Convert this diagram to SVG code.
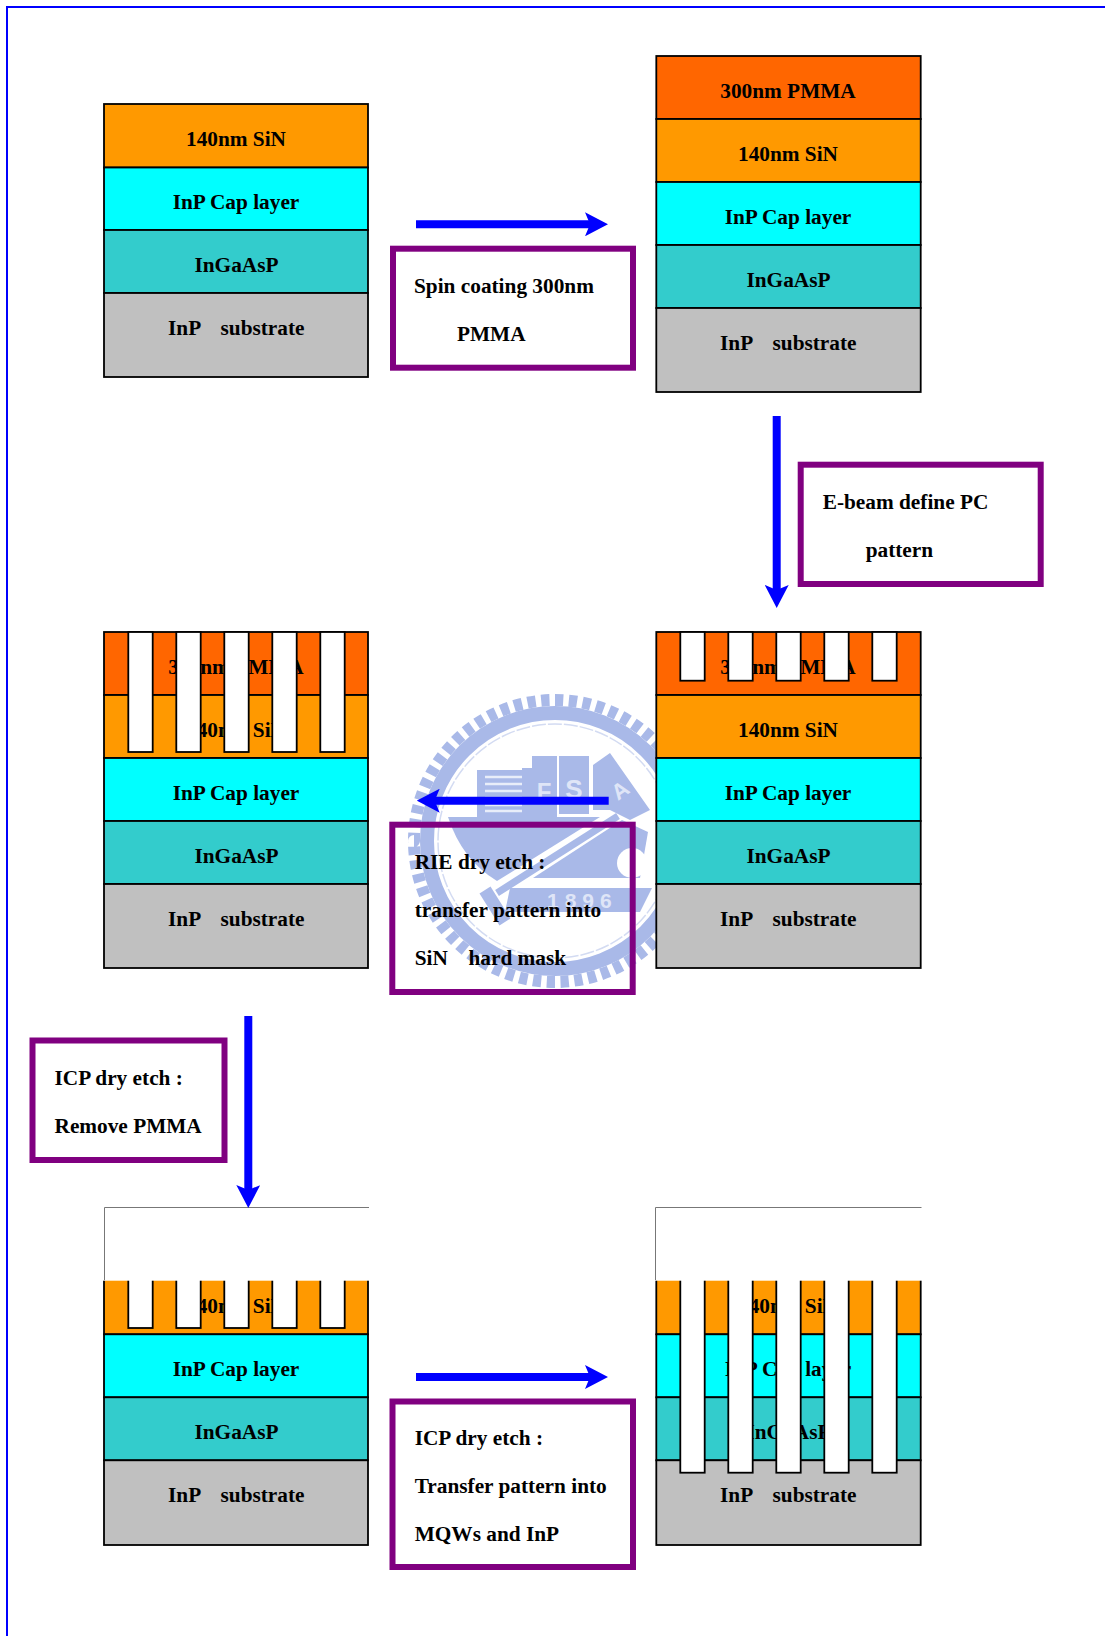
<svg xmlns="http://www.w3.org/2000/svg" width="1105" height="1636" viewBox="0 0 1105 1636">
<style>
text{font-family:"Liberation Serif","Times New Roman",serif;font-weight:bold;font-size:21.3px;fill:#000}
.c{text-anchor:middle}
.l{stroke:#000;stroke-width:1.800}
.pm{fill:#f60}.si{fill:#f90}.ca{fill:#0ff}.qw{fill:#3cc}.su{fill:#c0c0c0}
.tr{fill:#fff;stroke:#000;stroke-width:1.800}
.box{fill:none;stroke:#800080;stroke-width:6}
.ar{fill:none;stroke:#00f;stroke-width:8;marker-end:url(#head)}
.wm{fill:#a9b9e8}
.wt{fill:#dfe5f7;font-family:"Liberation Sans",Arial,sans-serif}
.cover{fill:#fff}
.edge{stroke:#777;stroke-width:1;fill:none}
</style>
<defs>
<marker id="head" markerUnits="userSpaceOnUse" viewBox="0 0 24 24" markerWidth="24" markerHeight="24" refX="10" refY="12" orient="auto"><path d="M1,0L24,12L1,24L6,12Z" fill="#00f"/></marker>
</defs>
<path id="frame" d="M1105,7H7V1636" fill="none" stroke="#00f" stroke-width="2"/>
<g id="watermark">
<circle cx="555" cy="841" r="141" fill="none" stroke="#a9b9e8" stroke-width="12" pathLength="64" stroke-dasharray=".6 .4"/>
<circle cx="555" cy="841" r="128" fill="none" stroke="#a9b9e8" stroke-width="14"/>
<circle cx="555" cy="841" r="117" fill="none" stroke="#d3dbf2" stroke-width="1.500" stroke-dasharray="14 2"/>
<rect class="wm" x="477" y="770" width="45" height="47"/>
<path d="M485,777H522M485,784H522M485,791H522M485,798H522M485,805H522M485,811H522" stroke="#e8edf9" stroke-width="2.500"/>
<rect class="wm" x="522" y="768" width="10" height="49"/>
<rect class="wm" x="532" y="756" width="25" height="61"/>
<rect class="wm" x="559" y="756" width="30" height="58"/>
<path class="wm" d="M593,765L610,753L650,810L630,820L610,810L593,810Z"/>
<text class="wt c" x="544" y="800" style="font-size:24px">F</text>
<text class="wt c" x="574" y="798" style="font-size:26px">S</text>
<text class="wt c" x="620" y="798" style="font-size:22px" transform="rotate(-35 620 790)">A</text>
<path class="wm" d="M448,817H600L497,881Q462,860 448,817Z"/>
<path d="M618,816L497,893" stroke="#a9b9e8" stroke-width="7" fill="none"/>
<path class="wm" d="M533,878L622,820L648,832L640,878Z"/>
<circle cx="632" cy="863" r="15" fill="#fff"/>
<path d="M485,890L505,922" stroke="#a9b9e8" stroke-width="13" fill="none"/>
<path class="wm" d="M510,888H652L640,912H505Z"/>
<text class="wt" x="547" y="908" style="font-size:21px;letter-spacing:6px">1896</text>
</g>
<g id="stack-1">
<rect class="si l" x="104" y="104" width="264" height="63.500"/><rect class="ca l" x="104" y="167.500" width="264" height="62.500"/><rect class="qw l" x="104" y="230" width="264" height="63"/><rect class="su l" x="104" y="293" width="264" height="84"/>
<text class="c" x="236" y="146">140nm SiN</text><text class="c" x="236" y="209">InP Cap layer</text><text class="c" x="236.500" y="272">InGaAsP</text>
<text y="335"><tspan x="168">InP</tspan> <tspan x="220.500">substrate</tspan></text>
</g>
<g id="stack-2">
<rect class="pm l" x="656.300" y="56" width="264.400" height="63"/><rect class="si l" x="656.300" y="119" width="264.400" height="63"/><rect class="ca l" x="656.300" y="182" width="264.400" height="63"/><rect class="qw l" x="656.300" y="245" width="264.400" height="63"/><rect class="su l" x="656.300" y="308" width="264.400" height="84"/>
<text class="c" x="788" y="98">300nm PMMA</text><text class="c" x="788" y="161">140nm SiN</text><text class="c" x="788" y="224">InP Cap layer</text><text class="c" x="788.500" y="287">InGaAsP</text>
<text y="350"><tspan x="720">InP</tspan> <tspan x="772.500">substrate</tspan></text>
</g>
<g id="stack-3">
<rect class="pm l" x="656.300" y="632" width="264.400" height="63"/><rect class="si l" x="656.300" y="695" width="264.400" height="63"/><rect class="ca l" x="656.300" y="758" width="264.400" height="63"/><rect class="qw l" x="656.300" y="821" width="264.400" height="63"/><rect class="su l" x="656.300" y="884" width="264.400" height="84"/>
<text class="c" x="788" y="674">300nm PMMA</text><text class="c" x="788" y="737">140nm SiN</text><text class="c" x="788" y="800">InP Cap layer</text><text class="c" x="788.500" y="863">InGaAsP</text>
<text y="926"><tspan x="720">InP</tspan> <tspan x="772.500">substrate</tspan></text>
<rect class="tr" x="680.300" y="632" width="24.400" height="48.700"/><rect class="tr" x="728.300" y="632" width="24.400" height="48.700"/><rect class="tr" x="776.300" y="632" width="24.400" height="48.700"/><rect class="tr" x="824.300" y="632" width="24.400" height="48.700"/><rect class="tr" x="872.300" y="632" width="24.400" height="48.700"/>
</g>
<g id="stack-4">
<rect class="pm l" x="104" y="632" width="264" height="63"/><rect class="si l" x="104" y="695" width="264" height="63"/><rect class="ca l" x="104" y="758" width="264" height="63"/><rect class="qw l" x="104" y="821" width="264" height="63"/><rect class="su l" x="104" y="884" width="264" height="84"/>
<text class="c" x="236" y="674">300nm PMMA</text><text class="c" x="236" y="737">140nm SiN</text><text class="c" x="236" y="800">InP Cap layer</text><text class="c" x="236.500" y="863">InGaAsP</text>
<text y="926"><tspan x="168">InP</tspan> <tspan x="220.500">substrate</tspan></text>
<rect class="tr" x="128.300" y="632" width="24.400" height="120"/><rect class="tr" x="176.300" y="632" width="24.400" height="120"/><rect class="tr" x="224.300" y="632" width="24.400" height="120"/><rect class="tr" x="272.300" y="632" width="24.400" height="120"/><rect class="tr" x="320.300" y="632" width="24.400" height="120"/>
</g>
<g id="stack-5">
<rect class="si l" x="104" y="1271" width="264" height="63.300"/><rect class="ca l" x="104" y="1334.300" width="264" height="63"/><rect class="qw l" x="104" y="1397.300" width="264" height="63"/><rect class="su l" x="104" y="1460.300" width="264" height="84.700"/>
<text class="c" x="236" y="1313">140nm SiN</text><text class="c" x="236" y="1376">InP Cap layer</text><text class="c" x="236.500" y="1439">InGaAsP</text>
<text y="1502"><tspan x="168">InP</tspan> <tspan x="220.500">substrate</tspan></text>
<rect class="tr" x="128.300" y="1270" width="24.400" height="58"/><rect class="tr" x="176.300" y="1270" width="24.400" height="58"/><rect class="tr" x="224.300" y="1270" width="24.400" height="58"/><rect class="tr" x="272.300" y="1270" width="24.400" height="58"/><rect class="tr" x="320.300" y="1270" width="24.400" height="58"/>
<rect class="cover" x="103" y="1207" width="267" height="73.700"/>
<path class="edge" d="M369,1207.500H104.500V1280"/>
</g>
<g id="stack-6">
<rect class="si l" x="656.300" y="1271" width="264.400" height="63.300"/><rect class="ca l" x="656.300" y="1334.300" width="264.400" height="63"/><rect class="qw l" x="656.300" y="1397.300" width="264.400" height="63"/><rect class="su l" x="656.300" y="1460.300" width="264.400" height="84.700"/>
<text class="c" x="788" y="1313">140nm SiN</text><text class="c" x="788" y="1376">InP Cap layer</text><text class="c" x="788.500" y="1439">InGaAsP</text>
<text y="1502"><tspan x="720">InP</tspan> <tspan x="772.500">substrate</tspan></text>
<rect class="tr" x="680.300" y="1270" width="24.400" height="202.700"/><rect class="tr" x="728.300" y="1270" width="24.400" height="202.700"/><rect class="tr" x="776.300" y="1270" width="24.400" height="202.700"/><rect class="tr" x="824.300" y="1270" width="24.400" height="202.700"/><rect class="tr" x="872.300" y="1270" width="24.400" height="202.700"/>
<rect class="cover" x="655" y="1207" width="268" height="73.700"/>
<path class="edge" d="M921.500,1207.500H655.500V1280"/>
</g>
<g id="label-spin"><rect class="box" x="393" y="248.700" width="240" height="119"/>
<text x="414" y="293">Spin coating 300nm</text><text x="457" y="341">PMMA</text></g>
<g id="label-ebeam"><rect class="box" x="800.700" y="464.700" width="240" height="119.300"/>
<text x="822.700" y="509">E-beam define PC</text><text x="865.700" y="557">pattern</text></g>
<g id="label-rie"><rect class="box" x="392.300" y="824.700" width="240.400" height="167.300"/>
<text x="414.700" y="869">RIE dry etch :</text><text x="414.700" y="917">transfer pattern into</text>
<text y="965"><tspan x="414.700">SiN</tspan> <tspan x="468.500">hard mask</tspan></text></g>
<g id="label-remove"><rect class="box" x="32.500" y="1040.500" width="192" height="119.500"/>
<text x="54.500" y="1085">ICP dry etch :</text><text x="54.500" y="1133">Remove PMMA</text></g>
<g id="label-transfer"><rect class="box" x="392.500" y="1401.500" width="240.500" height="165.500"/>
<text x="414.700" y="1445">ICP dry etch :</text><text x="414.700" y="1493">Transfer pattern into</text><text x="414.700" y="1541">MQWs and InP</text></g>
<g id="connectors">
<line class="ar" x1="416" y1="224.300" x2="594" y2="224.300"/>
<line class="ar" x1="776.700" y1="416" x2="776.700" y2="594"/>
<line class="ar" x1="608.700" y1="800.700" x2="430.700" y2="800.700"/>
<line class="ar" x1="248.300" y1="1016" x2="248.300" y2="1194"/>
<line class="ar" x1="416" y1="1377" x2="594" y2="1377"/>
</g>
</svg>
